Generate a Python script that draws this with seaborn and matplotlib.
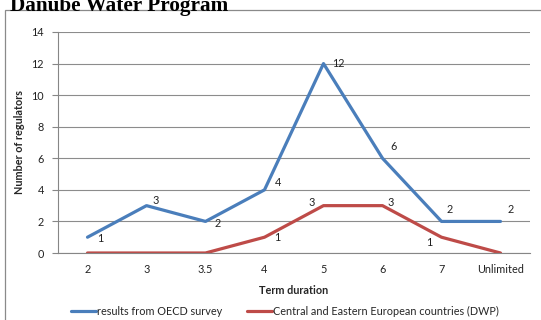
import matplotlib
matplotlib.use("Agg")
import matplotlib.pyplot as plt
from matplotlib.patches import Rectangle
import numpy as np
import pandas as pd
import seaborn as sns

# Term duration categories and regulator counts
terms = ["2", "3", "3.5", "4", "5", "6", "7", "Unlimited"]
oecd_counts = [1, 3, 2, 4, 12, 6, 2, 2]
dwp_counts = [0, 0, 0, 1, 3, 3, 1, 0]

oecd_name = "results from OECD survey"
dwp_name = "Central and Eastern European countries (DWP)"

# Label offsets (pixels) for the value annotations
oecd_offsets = [(13, -1), (9, 5), (12, -2), (14, 7), (15, 0), (11, 12), (8, 12), (10, 12)]
dwp_offsets = [None, None, None, (13, 0), (-12, 3), (8, 3), (-12, -5), None]

sns.set_style("white")
plt.rcParams["font.family"] = ["Lato", "DejaVu Sans"]

df = pd.DataFrame({
    "term": terms * 2,
    "count": oecd_counts + dwp_counts,
    "series": [oecd_name] * len(terms) + [dwp_name] * len(terms),
})

fig = plt.figure(figsize=(5.41, 3.20), dpi=100)
W, H = 541.0, 320.0
ax = fig.add_axes([58 / W, 1 - 253 / H, (530 - 58) / W, (253 - 32) / H])

palette = {oecd_name: "#4A7EBB", dwp_name: "#BE4B48"}
sns.lineplot(data=df, x="term", y="count", hue="series", palette=palette,
             linewidth=2.3, ax=ax, legend=False, sort=False)

fs = 7.8
ax.set_xlim(-0.5, len(terms) - 0.5)
ax.set_ylim(0, 14)
ax.set_yticks(np.arange(0, 15, 2))
ax.set_xticks(range(len(terms)))
ax.set_xticklabels(terms)
ax.set_xticks(np.arange(-0.5, len(terms), 1), minor=True)
ax.tick_params(axis="x", which="major", length=0, labelsize=fs, pad=8, colors="#222222")
ax.tick_params(axis="x", which="minor", length=4, width=0.8, color="#868686", direction="out")
ax.tick_params(axis="y", length=4, width=0.8, color="#868686", labelsize=fs, pad=6,
               labelcolor="#222222", left=True)
ax.grid(axis="y", color="#8c8c8c", linewidth=0.8)
ax.set_axisbelow(True)
for side in ("top", "right"):
    ax.spines[side].set_visible(False)
for side in ("left", "bottom"):
    ax.spines[side].set_color("#868686")
    ax.spines[side].set_linewidth(0.8)

ax.set_xlabel("Term duration", fontsize=fs, fontweight="bold", labelpad=7)
ax.set_ylabel("Number of regulators", fontsize=fs, fontweight="bold", labelpad=5)

# Value labels
for i, (v, off) in enumerate(zip(oecd_counts, oecd_offsets)):
    ax.annotate(str(v), (i, v), xytext=off, textcoords="offset pixels",
                ha="center", va="center", fontsize=fs, color="#222222")
for i, (v, off) in enumerate(zip(dwp_counts, dwp_offsets)):
    if off is None:
        continue
    ax.annotate(str(v), (i, v), xytext=off, textcoords="offset pixels",
                ha="center", va="center", fontsize=fs, color="#222222")

# Legend below the axis title
handles = [plt.Line2D([], [], color=palette[oecd_name], lw=2.3),
           plt.Line2D([], [], color=palette[dwp_name], lw=2.3)]
fig.legend(handles, [oecd_name, dwp_name], loc="center", bbox_to_anchor=(0.527, 0.027),
           ncol=2, frameon=False, fontsize=fs, handlelength=2.3, handletextpad=0.1,
           columnspacing=2.3)

# Chart frame
fig.add_artist(Rectangle((5 / W, -0.1), 1.2, 1 - 9.5 / H + 0.1, transform=fig.transFigure,
                         fill=False, edgecolor="#8a8a8a", linewidth=0.9))

# Section heading above the chart
fig.text(10 / W, 1 - 10.5 / H, "Danube Water Program", fontsize=15.3, fontweight="bold",
         family="Liberation Serif", ha="left", va="baseline", color="#000000")

fig.savefig("out.png", dpi=100)
